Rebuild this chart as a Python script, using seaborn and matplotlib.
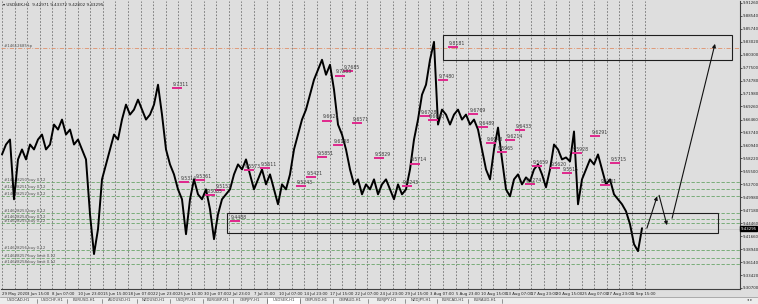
import numpy as np
import pandas as pd
import matplotlib
matplotlib.use("Agg")
import matplotlib.pyplot as plt
import seaborn as sns
from matplotlib.patches import Rectangle

# ---------------- data ----------------
# USDSEK H1 closes, one sample about every 10 hourly bars
close = [
    9.5907, 9.6118, 9.6224, 9.4954, 9.5801, 9.6013, 9.5801, 9.6118, 9.6013, 9.6224,
    9.6330, 9.6013, 9.6118, 9.6542, 9.6436, 9.6648, 9.6330, 9.6436, 9.6118, 9.6224,
    9.6013, 9.5801, 9.4636, 9.3789, 9.4318, 9.5377, 9.5695, 9.6013, 9.6330, 9.6224,
    9.6648, 9.6966, 9.6754, 9.6860, 9.7072, 9.6860, 9.6648, 9.6754, 9.6966, 9.7389,
    9.6754, 9.6013, 9.5695, 9.5483, 9.5165, 9.4954, 9.4212, 9.4954, 9.5377, 9.5059,
    9.4954, 9.5165, 9.4742, 9.4106, 9.4636, 9.4954, 9.5059, 9.5165, 9.5483, 9.5695,
    9.5589, 9.5801, 9.5483, 9.5165, 9.5377, 9.5589, 9.5271, 9.5483, 9.5165, 9.4848,
    9.5271, 9.5165, 9.5483, 9.6013, 9.6330, 9.6648, 9.6860, 9.7177, 9.7495, 9.7707,
    9.7919, 9.7601, 9.7813, 9.7283, 9.6542, 9.6330, 9.6013, 9.5589, 9.5271, 9.5377,
    9.5059, 9.5271, 9.5165, 9.5377, 9.5059, 9.5271, 9.5377, 9.5165, 9.4954, 9.5271,
    9.5059, 9.5165, 9.5589, 9.6224, 9.6648, 9.7177, 9.7389, 9.7919, 9.8300, 9.6542,
    9.6860, 9.6754, 9.6542, 9.6754, 9.6860, 9.6648, 9.6754, 9.6542, 9.6648, 9.6436,
    9.6013, 9.5589, 9.5377, 9.6013, 9.6478, 9.5801, 9.5165, 9.5017, 9.5377, 9.5483,
    9.5271, 9.5419, 9.5335, 9.5589, 9.5695, 9.5483, 9.5208, 9.5589, 9.6118, 9.6013,
    9.5801, 9.5843, 9.5758, 9.6394, 9.4848, 9.5377, 9.5589, 9.5801, 9.5695, 9.5907,
    9.5589, 9.5271, 9.5377, 9.5059, 9.4954, 9.4848, 9.4699, 9.4424, 9.4000, 9.3852,
    9.4339,
]
SAMPLE_HOURS = 10.16

date_labels = ["29 May 2020", "3 Jun 15:00", "8 Jun 07:00", "10 Jun 23:00", "15 Jun 15:00",
               "18 Jun 07:00", "22 Jun 23:00", "25 Jun 15:00", "30 Jun 07:00", "2 Jul 23:00",
               "7 Jul 15:00", "10 Jul 07:00", "14 Jul 23:00", "17 Jul 15:00", "22 Jul 07:00",
               "24 Jul 23:00", "29 Jul 15:00", "3 Aug 07:00", "5 Aug 23:00", "10 Aug 15:00",
               "13 Aug 07:00", "17 Aug 23:00", "20 Aug 15:00", "25 Aug 07:00", "27 Aug 23:00",
               "1 Sep 15:00"]
DATE_STEP = 64

price_ticks = [9.9126, 9.8854, 9.8574, 9.8302, 9.8030, 9.7750, 9.7478, 9.7198, 9.6926,
               9.6646, 9.6374, 9.6094, 9.5822, 9.5550, 9.5270, 9.4998, 9.4718, 9.4446,
               9.4166, 9.3894, 9.3614, 9.3342, 9.3070]

order_levels = [9.5314, 9.5165, 9.5017, 9.4657, 9.4530, 9.4445, 9.3873, 9.3704, 9.3577]
order_texts = ["#14628250 buy 0.12", "#14628251 buy 0.12", "#14628252 buy 0.12",
               "#14628253 buy 0.12", "#14628254 buy 0.12", "#14628255 buy 0.12",
               "#14628256 buy 0.12", "#14628257 buy limit 0.12", "#14628258 buy limit 0.12"]
tp_level = 9.8173
tp_text = "#14612685 tp"
current_price = 9.43295
header = "\u25BE USDSEK,H1  9.42971 9.43372 9.42802 9.43295"

label_values = ["9.7311", "9.7583", "9.7685", "9.8181", "9.7480", "9.5851", "9.5611",
                "9.5421", "9.5243", "9.5829", "9.5714", "9.5243", "9.5361", "9.5314",
                "9.4488", "9.6728", "9.6769", "9.6489", "9.6433", "9.6214", "9.6148",
                "9.5965", "9.6291", "9.5715", "9.5274", "9.5515", "9.5261", "9.6108",
                "9.6571", "9.6628", "9.5035", "9.5152", "9.5573", "9.5659", "9.5620",
                "9.5928", "9.6640"]
label_hours = [432, 846, 866, 1133, 1107, 800, 655, 772, 747, 945, 1036, 1016, 490, 450,
               579, 1062, 1184, 1209, 1303, 1278, 1229, 1257, 1494, 1544, 1328, 1422, 1519,
               841, 889, 813, 516, 541, 614, 1346, 1392, 1448, 1082]

# drawn objects (rectangles and forecast arrows)
boxes = [((1120, 9.7919), (1854, 9.8448)), ((571, 9.4233), (1819, 9.4657))]
arrow_path = [((1638, 9.4339), (1664, 9.5017)),
              ((1669, 9.5038), (1689, 9.4403)),
              ((1702, 9.4551), (1811, 9.8258))]

tabs = ["USDCAD,H1", "USDCHF,H1", "EURUSD,H1", "AUDUSD,H1", "NZDUSD,H1", "USDJPY,H1",
        "EURGBP,H1", "GBPJPY,H1", "USDSEK,H1", "GBPUSD,H1", "GBPAUD,H1", "EURJPY,H1",
        "NZDJPY,H1", "EURCAD,H1", "EURAUD,H1"]
tab_edges = [0, 37, 67, 102, 137, 170, 203, 233, 267, 300, 333, 368, 405, 437, 468, 502]
active_tab = "USDSEK,H1"

# ---------------- figure ----------------
W, H = 758, 304
BG = "#dedede"
sns.set_style("white", rc={"axes.facecolor": BG, "figure.facecolor": BG})
plt.rcParams["font.family"] = ["DejaVu Sans"]

fig = plt.figure(figsize=(W / 100, H / 100), dpi=100)
ax = fig.add_axes([1 / W, 1 - 289 / H, 739 / W, 288 / H])

hours = np.arange(len(close)) * SAMPLE_HOURS
df = pd.DataFrame({"hour": hours, "close": close})

# vertical dotted grid (only over the history area)
for h in np.arange(0, 1640, 32):
    ax.axvline(h, color="#6e6e6e", lw=0.6, ls=(0, (2, 2)), zorder=0)

# order lines
for lv, tx in zip(order_levels, order_texts):
    ax.axhline(lv, color="#6aa56a", lw=0.6, ls=(0, (4, 2)), zorder=1)
    ax.text(0.004, lv, tx, transform=ax.get_yaxis_transform(), fontsize=2.8,
            color="#505050", va="bottom", ha="left")
ax.axhline(tp_level, color="#e0906a", lw=0.6, ls=(0, (5, 2, 1, 2)), zorder=1)
ax.text(0.004, tp_level, tp_text, transform=ax.get_yaxis_transform(), fontsize=2.8,
        color="#505050", va="bottom", ha="left")
ax.axhline(current_price, color="#c4c4c4", lw=0.5, zorder=1)

# price line
sns.lineplot(data=df, x="hour", y="close", ax=ax, color="black", lw=1.4, zorder=3)

# magenta level labels
for v, hpos in zip(label_values, label_hours):
    val = float(v)
    ax.plot([hpos, hpos + 25], [val, val], color="#e0288c", lw=1.4, zorder=4,
            solid_capstyle="butt")
    ax.annotate(v, (hpos, val), xytext=(0.8, 0.8), textcoords="offset points",
                fontsize=3.3, color="#3a3a3a", va="bottom", ha="left", zorder=5)

# boxes
for (x0, y0), (x1, y1) in boxes:
    ax.add_patch(Rectangle((x0, y0), x1 - x0, y1 - y0, fill=False, ec="#1e1e1e",
                           lw=0.8, zorder=4))
# arrows
for (p0, p1) in arrow_path:
    ax.annotate("", xy=p1, xytext=p0,
                arrowprops=dict(arrowstyle="-|>", color="#111111", lw=0.8,
                                mutation_scale=5, shrinkA=0, shrinkB=0), zorder=5)

ax.set_xlim(-2.54, 1874.5)
ax.set_ylim(9.3068 - 0.00212, 9.9126 + 0.00212 * 2)

# axes styling
for s in ["left", "top"]:
    ax.spines[s].set_visible(False)
for s in ["right", "bottom"]:
    ax.spines[s].set_color("#404040")
    ax.spines[s].set_linewidth(0.8)

ax.yaxis.tick_right()
ax.set_yticks(price_ticks)
ax.set_yticklabels([f"{v:.5f}" for v in price_ticks])
ax.tick_params(axis="y", labelsize=2.8, length=1.5, width=0.5, pad=0.8, colors="#202020")

xt = [i * DATE_STEP for i in range(len(date_labels))]
ax.set_xticks(xt)
ax.set_xticklabels(date_labels)
ax.tick_params(axis="x", labelsize=2.8, length=1.5, width=0.5, pad=0.5, colors="#202020")
plt.setp(ax.get_xticklabels(), ha="left")
ax.set_xlabel("")
ax.set_ylabel("")

# current price box on the axis
ax.text(1.001, current_price, f"{current_price:.5f}", transform=ax.get_yaxis_transform(),
        fontsize=2.8, color="white", va="center", ha="left",
        bbox=dict(boxstyle="square,pad=0.15", fc="black", ec="black"), zorder=6,
        clip_on=False)

# header
fig.text(3 / W, 1 - 5 / H, header, fontsize=3.0, color="#202020", va="center", ha="left")

# tab bar
tax = fig.add_axes([0, 0, 1, 7 / H])
tax.set_xlim(0, W)
tax.set_ylim(0, 7)
tax.axis("off")
tax.add_patch(Rectangle((0, 0), W, 7, fc="#ececec", ec="none"))
tax.plot([0, W], [7, 7], color="#a0a0a0", lw=0.6)
for i, name in enumerate(tabs):
    a, b = tab_edges[i], tab_edges[i + 1]
    if name == active_tab:
        tax.add_patch(Rectangle((a, 0), b - a, 7, fc="white", ec="#909090", lw=0.5))
    tax.text((a + b) / 2, 2.6, name, fontsize=2.8, color="#404040", ha="center",
             va="baseline")
    tax.plot([b, b], [1.5, 5.5], color="#707070", lw=0.5)
tax.text(750, 2.6, "\u25C2 \u25B8", fontsize=2.8, color="#505050", ha="center",
         va="baseline")

fig.savefig("out.png", dpi=100, facecolor=BG)
